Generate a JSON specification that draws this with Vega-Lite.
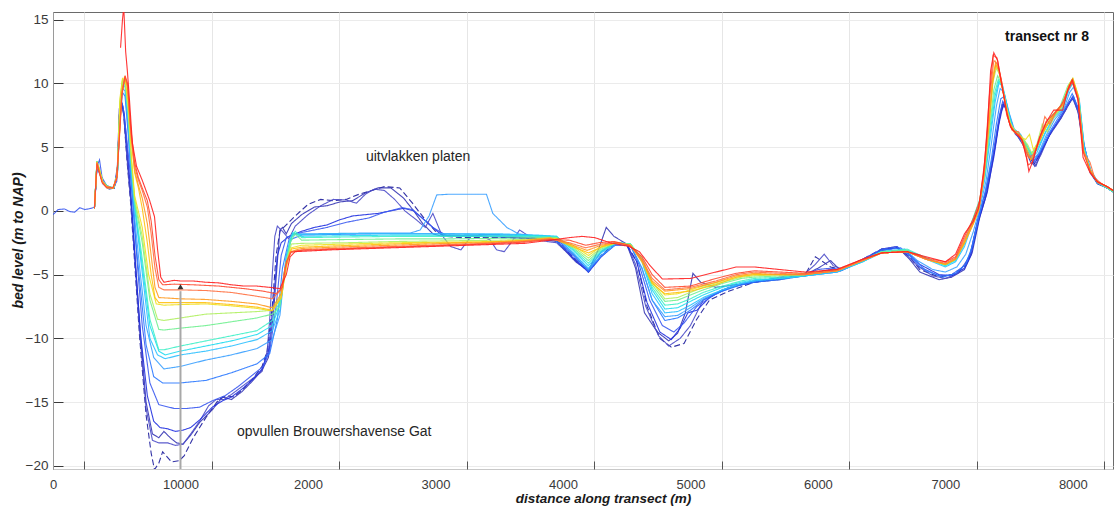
{
"$schema":"https://vega.github.io/schema/vega-lite/v6.json",
"width":1060,"height":457,
"autosize":{"type":"none"},
"padding":{"left":53,"top":12,"right":2,"bottom":38},
"config":{"view":{"stroke":"#6a6a6a"},"font":"Liberation Sans","axis":{"labelFont":"Liberation Sans","titleFont":"Liberation Sans"}},
"resolve":{"axis":{"x":"independent"}},
"layer":[
{"data":{"values":[
{"s":0,"x":325,"y":0.2},{"s":0,"x":345,"y":3.6},{"s":0,"x":370,"y":3.0},{"s":0,"x":395,"y":2.2},{"s":0,"x":440,"y":1.8},{"s":0,"x":480,"y":1.8},{"s":0,"x":505,"y":3.0},{"s":0,"x":520,"y":7.5},{"s":0,"x":535,"y":8.6},{"s":0,"x":555,"y":7.5},{"s":0,"x":580,"y":4.0},{"s":0,"x":610,"y":0.5},{"s":0,"x":640,"y":-4.0},{"s":0,"x":680,"y":-10.0},{"s":0,"x":730,"y":-16.0},{"s":0,"x":770,"y":-19.0},{"s":0,"x":796,"y":-20.3},{"s":0,"x":830,"y":-19.8},{"s":0,"x":860,"y":-18.9},{"s":0,"x":895,"y":-19.3},{"s":0,"x":930,"y":-19.7},{"s":0,"x":990,"y":-19.6},{"s":0,"x":1030,"y":-19.2},{"s":0,"x":1100,"y":-17.8},{"s":0,"x":1200,"y":-16.2},{"s":0,"x":1300,"y":-14.8},{"s":0,"x":1360,"y":-14.5},{"s":0,"x":1420,"y":-14.6},{"s":0,"x":1500,"y":-13.9},{"s":0,"x":1580,"y":-13.0},{"s":0,"x":1640,"y":-12.2},{"s":0,"x":1680,"y":-11.0},{"s":0,"x":1720,"y":-7.5},{"s":0,"x":1750,"y":-3.5},{"s":0,"x":1780,"y":-1.6},{"s":0,"x":1830,"y":-1.1},{"s":0,"x":1900,"y":-0.4},{"s":0,"x":2000,"y":0.5},{"s":0,"x":2100,"y":0.9},{"s":0,"x":2200,"y":0.8},{"s":0,"x":2300,"y":0.9},{"s":0,"x":2400,"y":1.3},{"s":0,"x":2500,"y":1.6},{"s":0,"x":2600,"y":1.9},{"s":0,"x":2720,"y":1.8},{"s":0,"x":2820,"y":0.6},{"s":0,"x":2920,"y":-0.7},{"s":0,"x":3000,"y":-1.6},{"s":0,"x":3080,"y":-2.0},{"s":0,"x":3200,"y":-2.1},{"s":0,"x":3400,"y":-2.1},{"s":0,"x":3600,"y":-2.1},{"s":0,"x":3800,"y":-2.2},{"s":0,"x":3950,"y":-2.3},{"s":0,"x":4100,"y":-3.8},{"s":0,"x":4200,"y":-4.8},{"s":0,"x":4300,"y":-3.5},{"s":0,"x":4400,"y":-2.6},{"s":0,"x":4500,"y":-2.6},{"s":0,"x":4580,"y":-4.0},{"s":0,"x":4660,"y":-7.5},{"s":0,"x":4760,"y":-10.0},{"s":0,"x":4850,"y":-10.7},{"s":0,"x":4950,"y":-10.4},{"s":0,"x":5050,"y":-8.5},{"s":0,"x":5150,"y":-7.0},{"s":0,"x":5300,"y":-6.3},{"s":0,"x":5500,"y":-5.6},{"s":0,"x":5700,"y":-5.3},{"s":0,"x":5900,"y":-5.0},{"s":0,"x":5980,"y":-3.6},{"s":0,"x":6100,"y":-4.4},{"s":0,"x":6180,"y":-4.6},{"s":0,"x":6350,"y":-3.8},{"s":0,"x":6500,"y":-3.0},{"s":0,"x":6620,"y":-2.9},{"s":0,"x":6720,"y":-3.6},{"s":0,"x":6800,"y":-4.6},{"s":0,"x":6950,"y":-5.2},{"s":0,"x":7050,"y":-5.0},{"s":0,"x":7150,"y":-4.4},{"s":0,"x":7200,"y":-3.3},{"s":0,"x":7260,"y":-0.5},{"s":0,"x":7320,"y":1.5},{"s":0,"x":7380,"y":4.5},{"s":0,"x":7420,"y":7.0},{"s":0,"x":7450,"y":8.5},{"s":0,"x":7480,"y":8.0},{"s":0,"x":7510,"y":6.7},{"s":0,"x":7560,"y":6.0},{"s":0,"x":7610,"y":5.4},{"s":0,"x":7660,"y":4.2},{"s":0,"x":7700,"y":3.7},{"s":0,"x":7750,"y":4.6},{"s":0,"x":7820,"y":6.0},{"s":0,"x":7900,"y":7.2},{"s":0,"x":7960,"y":8.2},{"s":0,"x":8000,"y":8.9},{"s":0,"x":8040,"y":8.0},{"s":0,"x":8080,"y":5.5},{"s":0,"x":8130,"y":3.2},{"s":0,"x":8190,"y":2.2},{"s":0,"x":8270,"y":1.8},{"s":0,"x":8315,"y":1.5},
{"s":1,"x":325,"y":0.2},{"s":1,"x":345,"y":3.4},{"s":1,"x":370,"y":2.9},{"s":1,"x":395,"y":2.1},{"s":1,"x":440,"y":1.8},{"s":1,"x":480,"y":1.8},{"s":1,"x":505,"y":3.5},{"s":1,"x":520,"y":8.0},{"s":1,"x":535,"y":8.7},{"s":1,"x":555,"y":7.8},{"s":1,"x":580,"y":4.5},{"s":1,"x":610,"y":1.0},{"s":1,"x":640,"y":-3.0},{"s":1,"x":680,"y":-9.0},{"s":1,"x":730,"y":-15.0},{"s":1,"x":780,"y":-17.5},{"s":1,"x":830,"y":-17.8},{"s":1,"x":870,"y":-17.3},{"s":1,"x":920,"y":-17.8},{"s":1,"x":970,"y":-18.2},{"s":1,"x":1020,"y":-18.3},{"s":1,"x":1080,"y":-17.6},{"s":1,"x":1150,"y":-16.6},{"s":1,"x":1250,"y":-15.6},{"s":1,"x":1330,"y":-14.6},{"s":1,"x":1400,"y":-14.8},{"s":1,"x":1480,"y":-14.2},{"s":1,"x":1560,"y":-13.4},{"s":1,"x":1640,"y":-12.5},{"s":1,"x":1690,"y":-11.5},{"s":1,"x":1730,"y":-8.0},{"s":1,"x":1760,"y":-4.0},{"s":1,"x":1780,"y":-1.5},{"s":1,"x":1800,"y":-1.3},{"s":1,"x":1830,"y":-1.8},{"s":1,"x":1870,"y":-1.0},{"s":1,"x":1950,"y":-0.3},{"s":1,"x":2050,"y":0.3},{"s":1,"x":2150,"y":0.4},{"s":1,"x":2250,"y":0.7},{"s":1,"x":2350,"y":0.8},{"s":1,"x":2450,"y":1.4},{"s":1,"x":2550,"y":1.8},{"s":1,"x":2650,"y":1.8},{"s":1,"x":2750,"y":1.0},{"s":1,"x":2830,"y":0.0},{"s":1,"x":2900,"y":-1.0},{"s":1,"x":2980,"y":-1.8},{"s":1,"x":3050,"y":-2.0},{"s":1,"x":3200,"y":-2.0},{"s":1,"x":3400,"y":-2.0},{"s":1,"x":3600,"y":-2.0},{"s":1,"x":3800,"y":-2.2},{"s":1,"x":3950,"y":-2.4},{"s":1,"x":4100,"y":-4.0},{"s":1,"x":4200,"y":-4.7},{"s":1,"x":4280,"y":-3.0},{"s":1,"x":4340,"y":-1.3},{"s":1,"x":4400,"y":-2.0},{"s":1,"x":4500,"y":-2.6},{"s":1,"x":4570,"y":-4.5},{"s":1,"x":4640,"y":-8.0},{"s":1,"x":4740,"y":-9.5},{"s":1,"x":4830,"y":-10.2},{"s":1,"x":4900,"y":-9.6},{"s":1,"x":4960,"y":-8.0},{"s":1,"x":5020,"y":-4.9},{"s":1,"x":5080,"y":-5.6},{"s":1,"x":5200,"y":-6.0},{"s":1,"x":5350,"y":-5.8},{"s":1,"x":5500,"y":-5.6},{"s":1,"x":5700,"y":-5.4},{"s":1,"x":5900,"y":-5.0},{"s":1,"x":6000,"y":-4.5},{"s":1,"x":6100,"y":-3.9},{"s":1,"x":6180,"y":-4.7},{"s":1,"x":6350,"y":-3.9},{"s":1,"x":6500,"y":-3.0},{"s":1,"x":6620,"y":-2.8},{"s":1,"x":6720,"y":-3.8},{"s":1,"x":6800,"y":-4.8},{"s":1,"x":6950,"y":-5.4},{"s":1,"x":7050,"y":-5.2},{"s":1,"x":7150,"y":-4.6},{"s":1,"x":7210,"y":-3.3},{"s":1,"x":7270,"y":-0.5},{"s":1,"x":7330,"y":1.5},{"s":1,"x":7390,"y":5.0},{"s":1,"x":7430,"y":7.6},{"s":1,"x":7460,"y":8.3},{"s":1,"x":7490,"y":7.6},{"s":1,"x":7520,"y":6.5},{"s":1,"x":7570,"y":5.8},{"s":1,"x":7620,"y":5.0},{"s":1,"x":7670,"y":3.8},{"s":1,"x":7710,"y":3.5},{"s":1,"x":7760,"y":4.8},{"s":1,"x":7830,"y":6.2},{"s":1,"x":7910,"y":7.3},{"s":1,"x":7970,"y":8.5},{"s":1,"x":8005,"y":8.8},{"s":1,"x":8045,"y":7.6},{"s":1,"x":8085,"y":5.0},{"s":1,"x":8135,"y":3.0},{"s":1,"x":8195,"y":2.1},{"s":1,"x":8270,"y":1.8},{"s":1,"x":8315,"y":1.5},
{"s":2,"x":325,"y":0.2},{"s":2,"x":345,"y":3.5},{"s":2,"x":370,"y":2.8},{"s":2,"x":395,"y":2.1},{"s":2,"x":440,"y":1.7},{"s":2,"x":480,"y":1.8},{"s":2,"x":505,"y":3.2},{"s":2,"x":520,"y":7.0},{"s":2,"x":535,"y":8.5},{"s":2,"x":555,"y":7.6},{"s":2,"x":580,"y":4.2},{"s":2,"x":610,"y":0.8},{"s":2,"x":640,"y":-3.5},{"s":2,"x":680,"y":-9.5},{"s":2,"x":730,"y":-15.5},{"s":2,"x":780,"y":-18.0},{"s":2,"x":830,"y":-18.2},{"s":2,"x":900,"y":-18.2},{"s":2,"x":960,"y":-18.4},{"s":2,"x":1020,"y":-18.3},{"s":2,"x":1080,"y":-17.5},{"s":2,"x":1150,"y":-16.5},{"s":2,"x":1220,"y":-15.3},{"s":2,"x":1280,"y":-14.8},{"s":2,"x":1340,"y":-14.8},{"s":2,"x":1400,"y":-14.4},{"s":2,"x":1480,"y":-13.8},{"s":2,"x":1560,"y":-13.2},{"s":2,"x":1640,"y":-12.6},{"s":2,"x":1680,"y":-11.0},{"s":2,"x":1700,"y":-8.5},{"s":2,"x":1720,"y":-5.0},{"s":2,"x":1740,"y":-2.0},{"s":2,"x":1760,"y":-1.2},{"s":2,"x":1800,"y":-1.6},{"s":2,"x":1850,"y":-2.2},{"s":2,"x":1900,"y":-1.2},{"s":2,"x":2000,"y":-0.3},{"s":2,"x":2100,"y":0.4},{"s":2,"x":2200,"y":0.9},{"s":2,"x":2300,"y":0.85},{"s":2,"x":2380,"y":0.6},{"s":2,"x":2450,"y":1.3},{"s":2,"x":2520,"y":1.7},{"s":2,"x":2600,"y":1.6},{"s":2,"x":2680,"y":0.9},{"s":2,"x":2760,"y":0.0},{"s":2,"x":2850,"y":-0.7},{"s":2,"x":2920,"y":-1.3},{"s":2,"x":2980,"y":-0.2},{"s":2,"x":3050,"y":-1.9},{"s":2,"x":3120,"y":-2.8},{"s":2,"x":3200,"y":-3.06},{"s":2,"x":3280,"y":-2.0},{"s":2,"x":3350,"y":-1.9},{"s":2,"x":3430,"y":-2.3},{"s":2,"x":3480,"y":-3.06},{"s":2,"x":3540,"y":-3.2},{"s":2,"x":3600,"y":-2.4},{"s":2,"x":3660,"y":-1.5},{"s":2,"x":3720,"y":-1.9},{"s":2,"x":3800,"y":-2.3},{"s":2,"x":3950,"y":-2.5},{"s":2,"x":4100,"y":-3.9},{"s":2,"x":4200,"y":-4.6},{"s":2,"x":4300,"y":-3.2},{"s":2,"x":4400,"y":-2.5},{"s":2,"x":4500,"y":-2.6},{"s":2,"x":4570,"y":-4.2},{"s":2,"x":4650,"y":-7.5},{"s":2,"x":4750,"y":-9.8},{"s":2,"x":4830,"y":-10.6},{"s":2,"x":4920,"y":-10.0},{"s":2,"x":5000,"y":-9.0},{"s":2,"x":5100,"y":-7.0},{"s":2,"x":5250,"y":-6.2},{"s":2,"x":5400,"y":-5.8},{"s":2,"x":5500,"y":-5.6},{"s":2,"x":5700,"y":-5.2},{"s":2,"x":5900,"y":-4.9},{"s":2,"x":5980,"y":-4.2},{"s":2,"x":6050,"y":-3.4},{"s":2,"x":6120,"y":-4.3},{"s":2,"x":6200,"y":-4.6},{"s":2,"x":6350,"y":-3.8},{"s":2,"x":6500,"y":-3.1},{"s":2,"x":6620,"y":-2.9},{"s":2,"x":6700,"y":-3.5},{"s":2,"x":6780,"y":-4.3},{"s":2,"x":6900,"y":-5.1},{"s":2,"x":7000,"y":-5.3},{"s":2,"x":7100,"y":-4.9},{"s":2,"x":7190,"y":-3.6},{"s":2,"x":7250,"y":-1.0},{"s":2,"x":7310,"y":1.0},{"s":2,"x":7370,"y":4.0},{"s":2,"x":7410,"y":6.5},{"s":2,"x":7445,"y":8.3},{"s":2,"x":7470,"y":8.4},{"s":2,"x":7500,"y":7.0},{"s":2,"x":7550,"y":6.0},{"s":2,"x":7600,"y":5.6},{"s":2,"x":7650,"y":4.5},{"s":2,"x":7700,"y":3.5},{"s":2,"x":7750,"y":4.4},{"s":2,"x":7810,"y":5.8},{"s":2,"x":7890,"y":7.0},{"s":2,"x":7950,"y":8.0},{"s":2,"x":7995,"y":8.9},{"s":2,"x":8040,"y":7.8},{"s":2,"x":8080,"y":5.2},{"s":2,"x":8130,"y":3.3},{"s":2,"x":8190,"y":2.2},{"s":2,"x":8270,"y":1.8},{"s":2,"x":8315,"y":1.5},
{"s":3,"x":325,"y":0.2},{"s":3,"x":345,"y":3.6},{"s":3,"x":370,"y":3.0},{"s":3,"x":395,"y":2.2},{"s":3,"x":440,"y":1.8},{"s":3,"x":480,"y":1.8},{"s":3,"x":505,"y":3.0},{"s":3,"x":520,"y":7.0},{"s":3,"x":535,"y":8.6},{"s":3,"x":560,"y":7.5},{"s":3,"x":585,"y":4.6},{"s":3,"x":615,"y":0.8},{"s":3,"x":645,"y":-4.0},{"s":3,"x":690,"y":-10.0},{"s":3,"x":740,"y":-14.5},{"s":3,"x":790,"y":-16.5},{"s":3,"x":840,"y":-17.0},{"s":3,"x":900,"y":-17.1},{"s":3,"x":960,"y":-17.3},{"s":3,"x":1020,"y":-17.2},{"s":3,"x":1080,"y":-17.0},{"s":3,"x":1150,"y":-16.4},{"s":3,"x":1250,"y":-15.4},{"s":3,"x":1330,"y":-14.9},{"s":3,"x":1400,"y":-14.6},{"s":3,"x":1480,"y":-14.0},{"s":3,"x":1560,"y":-13.3},{"s":3,"x":1640,"y":-12.4},{"s":3,"x":1690,"y":-11.0},{"s":3,"x":1730,"y":-7.0},{"s":3,"x":1760,"y":-3.5},{"s":3,"x":1790,"y":-2.5},{"s":3,"x":1850,"y":-2.0},{"s":3,"x":1950,"y":-1.6},{"s":3,"x":2050,"y":-1.3},{"s":3,"x":2150,"y":-1.1},{"s":3,"x":2250,"y":-0.7},{"s":3,"x":2350,"y":-0.4},{"s":3,"x":2450,"y":-0.3},{"s":3,"x":2550,"y":-0.2},{"s":3,"x":2650,"y":0.0},{"s":3,"x":2750,"y":0.2},{"s":3,"x":2830,"y":0.0},{"s":3,"x":2900,"y":-0.6},{"s":3,"x":2980,"y":-1.3},{"s":3,"x":3050,"y":-1.9},{"s":3,"x":3200,"y":-2.0},{"s":3,"x":3400,"y":-2.0},{"s":3,"x":3600,"y":-2.1},{"s":3,"x":3800,"y":-2.2},{"s":3,"x":3950,"y":-2.3},{"s":3,"x":4100,"y":-3.9},{"s":3,"x":4200,"y":-4.8},{"s":3,"x":4300,"y":-3.6},{"s":3,"x":4400,"y":-2.7},{"s":3,"x":4500,"y":-2.7},{"s":3,"x":4580,"y":-4.0},{"s":3,"x":4660,"y":-7.2},{"s":3,"x":4760,"y":-9.5},{"s":3,"x":4850,"y":-10.1},{"s":3,"x":4920,"y":-9.2},{"s":3,"x":4980,"y":-8.0},{"s":3,"x":5050,"y":-7.8},{"s":3,"x":5150,"y":-6.8},{"s":3,"x":5300,"y":-6.0},{"s":3,"x":5500,"y":-5.6},{"s":3,"x":5700,"y":-5.3},{"s":3,"x":5900,"y":-5.1},{"s":3,"x":6000,"y":-4.8},{"s":3,"x":6100,"y":-4.6},{"s":3,"x":6180,"y":-4.7},{"s":3,"x":6350,"y":-3.9},{"s":3,"x":6500,"y":-3.1},{"s":3,"x":6620,"y":-2.9},{"s":3,"x":6720,"y":-3.4},{"s":3,"x":6800,"y":-4.2},{"s":3,"x":6950,"y":-5.0},{"s":3,"x":7050,"y":-5.1},{"s":3,"x":7150,"y":-4.5},{"s":3,"x":7200,"y":-3.5},{"s":3,"x":7260,"y":-0.8},{"s":3,"x":7320,"y":1.2},{"s":3,"x":7380,"y":4.2},{"s":3,"x":7420,"y":6.8},{"s":3,"x":7455,"y":8.4},{"s":3,"x":7490,"y":7.8},{"s":3,"x":7520,"y":6.6},{"s":3,"x":7570,"y":6.0},{"s":3,"x":7620,"y":5.2},{"s":3,"x":7665,"y":4.0},{"s":3,"x":7705,"y":3.8},{"s":3,"x":7760,"y":4.8},{"s":3,"x":7830,"y":6.2},{"s":3,"x":7905,"y":7.4},{"s":3,"x":7965,"y":8.4},{"s":3,"x":8005,"y":9.0},{"s":3,"x":8045,"y":7.9},{"s":3,"x":8085,"y":5.3},{"s":3,"x":8135,"y":3.2},{"s":3,"x":8195,"y":2.2},{"s":3,"x":8270,"y":1.8},{"s":3,"x":8315,"y":1.5},
{"s":4,"x":0,"y":-0.3},{"s":4,"x":40,"y":0.1},{"s":4,"x":90,"y":0.15},{"s":4,"x":130,"y":-0.05},{"s":4,"x":170,"y":-0.1},{"s":4,"x":210,"y":0.25},{"s":4,"x":250,"y":0.1},{"s":4,"x":300,"y":0.2},{"s":4,"x":325,"y":0.3},{"s":4,"x":345,"y":3.5},{"s":4,"x":365,"y":4.0},{"s":4,"x":385,"y":2.6},{"s":4,"x":420,"y":2.0},{"s":4,"x":470,"y":1.8},{"s":4,"x":500,"y":2.3},{"s":4,"x":515,"y":5.0},{"s":4,"x":530,"y":8.7},{"s":4,"x":550,"y":8.2},{"s":4,"x":575,"y":6.0},{"s":4,"x":600,"y":3.5},{"s":4,"x":630,"y":0.5},{"s":4,"x":660,"y":-4.0},{"s":4,"x":700,"y":-9.0},{"s":4,"x":760,"y":-13.5},{"s":4,"x":830,"y":-15.2},{"s":4,"x":950,"y":-15.5},{"s":4,"x":1050,"y":-15.5},{"s":4,"x":1150,"y":-15.4},{"s":4,"x":1250,"y":-14.9},{"s":4,"x":1350,"y":-14.5},{"s":4,"x":1450,"y":-13.8},{"s":4,"x":1550,"y":-13.0},{"s":4,"x":1650,"y":-12.2},{"s":4,"x":1700,"y":-11.0},{"s":4,"x":1750,"y":-7.5},{"s":4,"x":1790,"y":-3.5},{"s":4,"x":1830,"y":-2.1},{"s":4,"x":1900,"y":-1.8},{"s":4,"x":2000,"y":-1.6},{"s":4,"x":2150,"y":-1.3},{"s":4,"x":2300,"y":-0.9},{"s":4,"x":2480,"y":-0.55},{"s":4,"x":2600,"y":-0.1},{"s":4,"x":2740,"y":0.25},{"s":4,"x":2820,"y":0.1},{"s":4,"x":2900,"y":-0.6},{"s":4,"x":2980,"y":-1.3},{"s":4,"x":3080,"y":-1.9},{"s":4,"x":3300,"y":-1.95},{"s":4,"x":3600,"y":-2.0},{"s":4,"x":3800,"y":-2.1},{"s":4,"x":3950,"y":-2.2},{"s":4,"x":4100,"y":-3.6},{"s":4,"x":4200,"y":-4.8},{"s":4,"x":4300,"y":-3.6},{"s":4,"x":4420,"y":-2.6},{"s":4,"x":4530,"y":-2.7},{"s":4,"x":4600,"y":-4.3},{"s":4,"x":4680,"y":-7.0},{"s":4,"x":4780,"y":-9.0},{"s":4,"x":4870,"y":-9.5},{"s":4,"x":4950,"y":-8.8},{"s":4,"x":5050,"y":-7.5},{"s":4,"x":5200,"y":-6.5},{"s":4,"x":5350,"y":-5.9},{"s":4,"x":5500,"y":-5.5},{"s":4,"x":5700,"y":-5.3},{"s":4,"x":5900,"y":-5.0},{"s":4,"x":6000,"y":-4.6},{"s":4,"x":6100,"y":-4.5},{"s":4,"x":6180,"y":-4.6},{"s":4,"x":6350,"y":-3.8},{"s":4,"x":6500,"y":-3.0},{"s":4,"x":6620,"y":-2.8},{"s":4,"x":6720,"y":-3.5},{"s":4,"x":6800,"y":-4.4},{"s":4,"x":6950,"y":-5.1},{"s":4,"x":7050,"y":-5.0},{"s":4,"x":7150,"y":-4.3},{"s":4,"x":7200,"y":-3.2},{"s":4,"x":7260,"y":-0.4},{"s":4,"x":7320,"y":1.7},{"s":4,"x":7380,"y":4.8},{"s":4,"x":7420,"y":7.3},{"s":4,"x":7450,"y":8.6},{"s":4,"x":7480,"y":8.1},{"s":4,"x":7510,"y":6.8},{"s":4,"x":7560,"y":6.0},{"s":4,"x":7610,"y":5.3},{"s":4,"x":7660,"y":4.3},{"s":4,"x":7700,"y":3.9},{"s":4,"x":7750,"y":4.7},{"s":4,"x":7820,"y":6.1},{"s":4,"x":7900,"y":7.3},{"s":4,"x":7960,"y":8.3},{"s":4,"x":8000,"y":8.9},{"s":4,"x":8040,"y":8.1},{"s":4,"x":8080,"y":5.6},{"s":4,"x":8130,"y":3.3},{"s":4,"x":8190,"y":2.2},{"s":4,"x":8270,"y":1.8},{"s":4,"x":8315,"y":1.5},
{"s":5,"x":325,"y":0.2},{"s":5,"x":345,"y":3.7},{"s":5,"x":365,"y":3.1},{"s":5,"x":390,"y":2.2},{"s":5,"x":430,"y":1.8},{"s":5,"x":475,"y":1.8},{"s":5,"x":505,"y":2.8},{"s":5,"x":525,"y":7.0},{"s":5,"x":545,"y":9.3},{"s":5,"x":565,"y":9.0},{"s":5,"x":590,"y":6.0},{"s":5,"x":615,"y":2.0},{"s":5,"x":640,"y":-1.5},{"s":5,"x":680,"y":-5.5},{"s":5,"x":730,"y":-10.5},{"s":5,"x":790,"y":-13.0},{"s":5,"x":860,"y":-13.5},{"s":5,"x":1000,"y":-13.5},{"s":5,"x":1200,"y":-13.3},{"s":5,"x":1400,"y":-12.7},{"s":5,"x":1600,"y":-12.0},{"s":5,"x":1700,"y":-11.2},{"s":5,"x":1760,"y":-8.5},{"s":5,"x":1800,"y":-4.5},{"s":5,"x":1850,"y":-2.3},{"s":5,"x":1950,"y":-1.9},{"s":5,"x":2200,"y":-1.85},{"s":5,"x":2500,"y":-1.8},{"s":5,"x":2800,"y":-1.8},{"s":5,"x":3100,"y":-1.8},{"s":5,"x":3400,"y":-1.85},{"s":5,"x":3700,"y":-1.9},{"s":5,"x":3900,"y":-2.0},{"s":5,"x":4050,"y":-3.2},{"s":5,"x":4200,"y":-4.7},{"s":5,"x":4300,"y":-3.5},{"s":5,"x":4420,"y":-2.6},{"s":5,"x":4530,"y":-2.7},{"s":5,"x":4620,"y":-4.5},{"s":5,"x":4700,"y":-7.0},{"s":5,"x":4800,"y":-8.6},{"s":5,"x":4900,"y":-8.4},{"s":5,"x":5000,"y":-7.8},{"s":5,"x":5100,"y":-7.0},{"s":5,"x":5250,"y":-6.3},{"s":5,"x":5400,"y":-5.8},{"s":5,"x":5500,"y":-5.6},{"s":5,"x":5700,"y":-5.4},{"s":5,"x":5900,"y":-5.1},{"s":5,"x":6150,"y":-4.8},{"s":5,"x":6350,"y":-3.9},{"s":5,"x":6500,"y":-3.1},{"s":5,"x":6650,"y":-2.9},{"s":5,"x":6750,"y":-3.8},{"s":5,"x":6850,"y":-4.7},{"s":5,"x":6980,"y":-5.2},{"s":5,"x":7080,"y":-4.9},{"s":5,"x":7160,"y":-4.2},{"s":5,"x":7210,"y":-2.8},{"s":5,"x":7260,"y":-0.6},{"s":5,"x":7310,"y":1.4},{"s":5,"x":7360,"y":4.0},{"s":5,"x":7400,"y":6.8},{"s":5,"x":7435,"y":8.8},{"s":5,"x":7465,"y":9.0},{"s":5,"x":7500,"y":7.6},{"s":5,"x":7540,"y":6.3},{"s":5,"x":7590,"y":5.8},{"s":5,"x":7640,"y":4.8},{"s":5,"x":7690,"y":3.9},{"s":5,"x":7740,"y":4.6},{"s":5,"x":7800,"y":5.9},{"s":5,"x":7880,"y":7.2},{"s":5,"x":7950,"y":8.3},{"s":5,"x":7995,"y":9.2},{"s":5,"x":8040,"y":8.1},{"s":5,"x":8080,"y":5.4},{"s":5,"x":8130,"y":3.3},{"s":5,"x":8190,"y":2.2},{"s":5,"x":8270,"y":1.8},{"s":5,"x":8315,"y":1.5},
{"s":6,"x":325,"y":0.2},{"s":6,"x":345,"y":3.8},{"s":6,"x":365,"y":3.1},{"s":6,"x":390,"y":2.2},{"s":6,"x":430,"y":1.8},{"s":6,"x":475,"y":1.8},{"s":6,"x":505,"y":2.8},{"s":6,"x":525,"y":7.5},{"s":6,"x":545,"y":9.6},{"s":6,"x":565,"y":9.4},{"s":6,"x":590,"y":6.5},{"s":6,"x":615,"y":2.5},{"s":6,"x":640,"y":-0.5},{"s":6,"x":680,"y":-4.5},{"s":6,"x":730,"y":-9.0},{"s":6,"x":790,"y":-11.5},{"s":6,"x":870,"y":-12.4},{"s":6,"x":1000,"y":-12.2},{"s":6,"x":1200,"y":-11.7},{"s":6,"x":1400,"y":-11.3},{"s":6,"x":1600,"y":-10.8},{"s":6,"x":1720,"y":-10.1},{"s":6,"x":1780,"y":-8.2},{"s":6,"x":1830,"y":-3.5},{"s":6,"x":1880,"y":-1.8},{"s":6,"x":2000,"y":-1.8},{"s":6,"x":2400,"y":-1.75},{"s":6,"x":2800,"y":-1.75},{"s":6,"x":2880,"y":-1.5},{"s":6,"x":2950,"y":-0.4},{"s":6,"x":3010,"y":1.25},{"s":6,"x":3100,"y":1.3},{"s":6,"x":3250,"y":1.3},{"s":6,"x":3400,"y":1.3},{"s":6,"x":3450,"y":-0.2},{"s":6,"x":3560,"y":-1.3},{"s":6,"x":3650,"y":-1.8},{"s":6,"x":3800,"y":-2.0},{"s":6,"x":3950,"y":-2.1},{"s":6,"x":4080,"y":-3.3},{"s":6,"x":4200,"y":-4.6},{"s":6,"x":4300,"y":-3.5},{"s":6,"x":4420,"y":-2.6},{"s":6,"x":4530,"y":-2.7},{"s":6,"x":4620,"y":-4.5},{"s":6,"x":4700,"y":-7.0},{"s":6,"x":4800,"y":-8.3},{"s":6,"x":4900,"y":-8.2},{"s":6,"x":5000,"y":-7.6},{"s":6,"x":5100,"y":-6.9},{"s":6,"x":5250,"y":-6.2},{"s":6,"x":5400,"y":-5.7},{"s":6,"x":5500,"y":-5.5},{"s":6,"x":5700,"y":-5.3},{"s":6,"x":5900,"y":-5.1},{"s":6,"x":6150,"y":-4.8},{"s":6,"x":6350,"y":-4.0},{"s":6,"x":6500,"y":-3.2},{"s":6,"x":6680,"y":-3.0},{"s":6,"x":6780,"y":-3.9},{"s":6,"x":6900,"y":-4.6},{"s":6,"x":7000,"y":-4.8},{"s":6,"x":7090,"y":-4.4},{"s":6,"x":7160,"y":-3.4},{"s":6,"x":7220,"y":-1.6},{"s":6,"x":7270,"y":0.2},{"s":6,"x":7320,"y":2.4},{"s":6,"x":7360,"y":5.2},{"s":6,"x":7400,"y":8.2},{"s":6,"x":7430,"y":9.6},{"s":6,"x":7460,"y":9.3},{"s":6,"x":7500,"y":7.7},{"s":6,"x":7540,"y":6.4},{"s":6,"x":7590,"y":6.0},{"s":6,"x":7640,"y":5.1},{"s":6,"x":7690,"y":4.1},{"s":6,"x":7730,"y":4.5},{"s":6,"x":7790,"y":5.9},{"s":6,"x":7860,"y":7.2},{"s":6,"x":7930,"y":8.0},{"s":6,"x":7975,"y":9.3},{"s":6,"x":8005,"y":9.7},{"s":6,"x":8050,"y":8.5},{"s":6,"x":8090,"y":5.0},{"s":6,"x":8140,"y":3.2},{"s":6,"x":8200,"y":2.2},{"s":6,"x":8270,"y":1.8},{"s":6,"x":8315,"y":1.5},
{"s":7,"x":325,"y":0.2},{"s":7,"x":345,"y":3.9},{"s":7,"x":365,"y":3.1},{"s":7,"x":390,"y":2.2},{"s":7,"x":430,"y":1.8},{"s":7,"x":475,"y":1.8},{"s":7,"x":505,"y":2.9},{"s":7,"x":525,"y":7.8},{"s":7,"x":545,"y":9.8},{"s":7,"x":565,"y":9.8},{"s":7,"x":590,"y":7.2},{"s":7,"x":615,"y":3.2},{"s":7,"x":640,"y":0.3},{"s":7,"x":690,"y":-4.0},{"s":7,"x":760,"y":-10.0},{"s":7,"x":820,"y":-11.3},{"s":7,"x":880,"y":-11.6},{"s":7,"x":1000,"y":-11.3},{"s":7,"x":1200,"y":-11.0},{"s":7,"x":1400,"y":-10.6},{"s":7,"x":1600,"y":-10.1},{"s":7,"x":1720,"y":-9.4},{"s":7,"x":1780,"y":-7.8},{"s":7,"x":1830,"y":-3.5},{"s":7,"x":1870,"y":-1.9},{"s":7,"x":1950,"y":-1.85},{"s":7,"x":2300,"y":-1.8},{"s":7,"x":2700,"y":-1.8},{"s":7,"x":3100,"y":-1.8},{"s":7,"x":3500,"y":-1.8},{"s":7,"x":3800,"y":-1.9},{"s":7,"x":3950,"y":-2.0},{"s":7,"x":4080,"y":-3.3},{"s":7,"x":4200,"y":-4.5},{"s":7,"x":4300,"y":-3.3},{"s":7,"x":4420,"y":-2.5},{"s":7,"x":4530,"y":-2.6},{"s":7,"x":4620,"y":-4.0},{"s":7,"x":4700,"y":-6.5},{"s":7,"x":4800,"y":-8.0},{"s":7,"x":4900,"y":-7.9},{"s":7,"x":5000,"y":-7.4},{"s":7,"x":5100,"y":-6.8},{"s":7,"x":5250,"y":-6.2},{"s":7,"x":5400,"y":-5.7},{"s":7,"x":5500,"y":-5.5},{"s":7,"x":5700,"y":-5.3},{"s":7,"x":5900,"y":-5.1},{"s":7,"x":6150,"y":-4.8},{"s":7,"x":6350,"y":-4.0},{"s":7,"x":6500,"y":-3.3},{"s":7,"x":6700,"y":-3.1},{"s":7,"x":6850,"y":-3.8},{"s":7,"x":7000,"y":-4.4},{"s":7,"x":7080,"y":-4.0},{"s":7,"x":7150,"y":-2.8},{"s":7,"x":7220,"y":-0.8},{"s":7,"x":7270,"y":0.5},{"s":7,"x":7310,"y":2.5},{"s":7,"x":7350,"y":5.5},{"s":7,"x":7390,"y":8.5},{"s":7,"x":7420,"y":10.0},{"s":7,"x":7450,"y":9.8},{"s":7,"x":7490,"y":8.0},{"s":7,"x":7530,"y":6.5},{"s":7,"x":7580,"y":6.0},{"s":7,"x":7630,"y":5.3},{"s":7,"x":7680,"y":4.2},{"s":7,"x":7720,"y":4.6},{"s":7,"x":7780,"y":6.0},{"s":7,"x":7850,"y":7.3},{"s":7,"x":7920,"y":8.0},{"s":7,"x":7970,"y":9.5},{"s":7,"x":8000,"y":10.0},{"s":7,"x":8050,"y":8.8},{"s":7,"x":8090,"y":5.0},{"s":7,"x":8140,"y":3.2},{"s":7,"x":8200,"y":2.2},{"s":7,"x":8270,"y":1.8},{"s":7,"x":8315,"y":1.5},
{"s":8,"x":325,"y":0.2},{"s":8,"x":345,"y":3.9},{"s":8,"x":365,"y":3.2},{"s":8,"x":390,"y":2.3},{"s":8,"x":430,"y":1.9},{"s":8,"x":475,"y":1.8},{"s":8,"x":505,"y":2.9},{"s":8,"x":525,"y":8.0},{"s":8,"x":545,"y":10.0},{"s":8,"x":565,"y":10.0},{"s":8,"x":590,"y":7.4},{"s":8,"x":615,"y":3.4},{"s":8,"x":640,"y":0.5},{"s":8,"x":690,"y":-3.5},{"s":8,"x":760,"y":-9.0},{"s":8,"x":830,"y":-11.0},{"s":8,"x":880,"y":-11.3},{"s":8,"x":1000,"y":-11.0},{"s":8,"x":1200,"y":-10.6},{"s":8,"x":1400,"y":-10.2},{"s":8,"x":1600,"y":-9.7},{"s":8,"x":1720,"y":-9.0},{"s":8,"x":1780,"y":-7.3},{"s":8,"x":1830,"y":-4.0},{"s":8,"x":1880,"y":-1.7},{"s":8,"x":1950,"y":-2.0},{"s":8,"x":2300,"y":-1.95},{"s":8,"x":2700,"y":-1.9},{"s":8,"x":3100,"y":-1.9},{"s":8,"x":3500,"y":-1.9},{"s":8,"x":3800,"y":-1.95},{"s":8,"x":3950,"y":-2.0},{"s":8,"x":4080,"y":-3.1},{"s":8,"x":4200,"y":-4.3},{"s":8,"x":4300,"y":-3.2},{"s":8,"x":4420,"y":-2.5},{"s":8,"x":4530,"y":-2.6},{"s":8,"x":4620,"y":-3.9},{"s":8,"x":4700,"y":-6.2},{"s":8,"x":4800,"y":-7.7},{"s":8,"x":4900,"y":-7.6},{"s":8,"x":5000,"y":-7.1},{"s":8,"x":5100,"y":-6.6},{"s":8,"x":5250,"y":-6.0},{"s":8,"x":5400,"y":-5.6},{"s":8,"x":5500,"y":-5.4},{"s":8,"x":5700,"y":-5.3},{"s":8,"x":5900,"y":-5.1},{"s":8,"x":6150,"y":-4.7},{"s":8,"x":6350,"y":-4.0},{"s":8,"x":6500,"y":-3.2},{"s":8,"x":6700,"y":-3.1},{"s":8,"x":6850,"y":-3.7},{"s":8,"x":7000,"y":-4.3},{"s":8,"x":7080,"y":-3.9},{"s":8,"x":7150,"y":-2.6},{"s":8,"x":7220,"y":-0.6},{"s":8,"x":7270,"y":0.7},{"s":8,"x":7310,"y":2.8},{"s":8,"x":7350,"y":6.0},{"s":8,"x":7390,"y":9.0},{"s":8,"x":7420,"y":10.2},{"s":8,"x":7450,"y":9.7},{"s":8,"x":7490,"y":7.8},{"s":8,"x":7530,"y":6.4},{"s":8,"x":7580,"y":6.1},{"s":8,"x":7630,"y":5.2},{"s":8,"x":7680,"y":4.4},{"s":8,"x":7720,"y":4.8},{"s":8,"x":7780,"y":6.1},{"s":8,"x":7850,"y":7.4},{"s":8,"x":7920,"y":8.1},{"s":8,"x":7970,"y":9.6},{"s":8,"x":8000,"y":10.1},{"s":8,"x":8050,"y":8.7},{"s":8,"x":8090,"y":4.8},{"s":8,"x":8140,"y":3.1},{"s":8,"x":8200,"y":2.2},{"s":8,"x":8270,"y":1.8},{"s":8,"x":8315,"y":1.5},
{"s":9,"x":325,"y":0.2},{"s":9,"x":345,"y":3.9},{"s":9,"x":365,"y":3.2},{"s":9,"x":390,"y":2.3},{"s":9,"x":430,"y":1.9},{"s":9,"x":475,"y":1.8},{"s":9,"x":505,"y":2.9},{"s":9,"x":525,"y":8.2},{"s":9,"x":545,"y":10.1},{"s":9,"x":565,"y":10.1},{"s":9,"x":590,"y":7.6},{"s":9,"x":615,"y":3.6},{"s":9,"x":640,"y":0.6},{"s":9,"x":690,"y":-3.0},{"s":9,"x":760,"y":-8.5},{"s":9,"x":830,"y":-10.9},{"s":9,"x":870,"y":-10.9},{"s":9,"x":1000,"y":-10.6},{"s":9,"x":1200,"y":-10.2},{"s":9,"x":1400,"y":-9.8},{"s":9,"x":1600,"y":-9.4},{"s":9,"x":1720,"y":-8.6},{"s":9,"x":1780,"y":-7.0},{"s":9,"x":1820,"y":-4.5},{"s":9,"x":1860,"y":-2.3},{"s":9,"x":1900,"y":-1.6},{"s":9,"x":1950,"y":-2.1},{"s":9,"x":2300,"y":-2.05},{"s":9,"x":2700,"y":-2.0},{"s":9,"x":3100,"y":-2.0},{"s":9,"x":3500,"y":-2.0},{"s":9,"x":3800,"y":-2.0},{"s":9,"x":3950,"y":-2.05},{"s":9,"x":4080,"y":-3.0},{"s":9,"x":4200,"y":-4.1},{"s":9,"x":4300,"y":-3.1},{"s":9,"x":4420,"y":-2.5},{"s":9,"x":4530,"y":-2.6},{"s":9,"x":4620,"y":-3.8},{"s":9,"x":4700,"y":-6.0},{"s":9,"x":4800,"y":-7.4},{"s":9,"x":4900,"y":-7.3},{"s":9,"x":5000,"y":-6.9},{"s":9,"x":5100,"y":-6.4},{"s":9,"x":5250,"y":-5.9},{"s":9,"x":5400,"y":-5.5},{"s":9,"x":5500,"y":-5.3},{"s":9,"x":5700,"y":-5.2},{"s":9,"x":5900,"y":-5.0},{"s":9,"x":6150,"y":-4.7},{"s":9,"x":6350,"y":-3.9},{"s":9,"x":6500,"y":-3.2},{"s":9,"x":6700,"y":-3.0},{"s":9,"x":6850,"y":-3.7},{"s":9,"x":7000,"y":-4.3},{"s":9,"x":7080,"y":-3.8},{"s":9,"x":7150,"y":-2.5},{"s":9,"x":7220,"y":-0.5},{"s":9,"x":7270,"y":0.9},{"s":9,"x":7310,"y":3.2},{"s":9,"x":7350,"y":6.5},{"s":9,"x":7385,"y":9.2},{"s":9,"x":7415,"y":10.3},{"s":9,"x":7445,"y":9.8},{"s":9,"x":7485,"y":7.8},{"s":9,"x":7525,"y":6.4},{"s":9,"x":7575,"y":6.1},{"s":9,"x":7625,"y":5.4},{"s":9,"x":7670,"y":4.5},{"s":9,"x":7710,"y":4.9},{"s":9,"x":7770,"y":6.2},{"s":9,"x":7840,"y":7.5},{"s":9,"x":7910,"y":8.2},{"s":9,"x":7965,"y":9.7},{"s":9,"x":7995,"y":10.2},{"s":9,"x":8045,"y":8.8},{"s":9,"x":8085,"y":4.9},{"s":9,"x":8135,"y":3.1},{"s":9,"x":8195,"y":2.2},{"s":9,"x":8270,"y":1.8},{"s":9,"x":8315,"y":1.5},
{"s":10,"x":325,"y":0.2},{"s":10,"x":345,"y":3.9},{"s":10,"x":365,"y":3.2},{"s":10,"x":390,"y":2.3},{"s":10,"x":430,"y":1.9},{"s":10,"x":475,"y":1.8},{"s":10,"x":505,"y":2.9},{"s":10,"x":525,"y":8.4},{"s":10,"x":545,"y":10.2},{"s":10,"x":565,"y":10.2},{"s":10,"x":590,"y":7.8},{"s":10,"x":615,"y":3.8},{"s":10,"x":640,"y":0.8},{"s":10,"x":700,"y":-2.5},{"s":10,"x":760,"y":-7.0},{"s":10,"x":830,"y":-9.3},{"s":10,"x":870,"y":-9.35},{"s":10,"x":1000,"y":-9.2},{"s":10,"x":1200,"y":-9.0},{"s":10,"x":1400,"y":-8.7},{"s":10,"x":1600,"y":-8.4},{"s":10,"x":1720,"y":-8.1},{"s":10,"x":1780,"y":-7.5},{"s":10,"x":1820,"y":-5.0},{"s":10,"x":1860,"y":-2.5},{"s":10,"x":1900,"y":-1.8},{"s":10,"x":1950,"y":-2.3},{"s":10,"x":2300,"y":-2.25},{"s":10,"x":2700,"y":-2.2},{"s":10,"x":3100,"y":-2.2},{"s":10,"x":3500,"y":-2.15},{"s":10,"x":3800,"y":-2.1},{"s":10,"x":3950,"y":-2.1},{"s":10,"x":4080,"y":-2.9},{"s":10,"x":4200,"y":-3.9},{"s":10,"x":4300,"y":-3.0},{"s":10,"x":4420,"y":-2.5},{"s":10,"x":4530,"y":-2.6},{"s":10,"x":4620,"y":-3.7},{"s":10,"x":4700,"y":-5.8},{"s":10,"x":4800,"y":-7.1},{"s":10,"x":4900,"y":-7.0},{"s":10,"x":5000,"y":-6.6},{"s":10,"x":5100,"y":-6.2},{"s":10,"x":5250,"y":-5.7},{"s":10,"x":5400,"y":-5.3},{"s":10,"x":5500,"y":-5.2},{"s":10,"x":5700,"y":-5.1},{"s":10,"x":5900,"y":-5.0},{"s":10,"x":6150,"y":-4.7},{"s":10,"x":6350,"y":-3.9},{"s":10,"x":6500,"y":-3.2},{"s":10,"x":6700,"y":-3.1},{"s":10,"x":6850,"y":-3.8},{"s":10,"x":7000,"y":-4.2},{"s":10,"x":7080,"y":-3.8},{"s":10,"x":7150,"y":-2.4},{"s":10,"x":7220,"y":-0.6},{"s":10,"x":7270,"y":0.8},{"s":10,"x":7310,"y":3.0},{"s":10,"x":7350,"y":6.8},{"s":10,"x":7380,"y":9.5},{"s":10,"x":7410,"y":10.6},{"s":10,"x":7440,"y":10.0},{"s":10,"x":7480,"y":8.0},{"s":10,"x":7520,"y":6.6},{"s":10,"x":7570,"y":6.1},{"s":10,"x":7620,"y":5.5},{"s":10,"x":7665,"y":4.4},{"s":10,"x":7700,"y":4.7},{"s":10,"x":7760,"y":6.0},{"s":10,"x":7830,"y":7.4},{"s":10,"x":7900,"y":8.2},{"s":10,"x":7960,"y":9.8},{"s":10,"x":7995,"y":10.3},{"s":10,"x":8045,"y":8.9},{"s":10,"x":8085,"y":4.8},{"s":10,"x":8135,"y":3.1},{"s":10,"x":8195,"y":2.2},{"s":10,"x":8270,"y":1.8},{"s":10,"x":8315,"y":1.5},
{"s":11,"x":325,"y":0.2},{"s":11,"x":345,"y":3.9},{"s":11,"x":365,"y":3.2},{"s":11,"x":390,"y":2.3},{"s":11,"x":430,"y":1.8},{"s":11,"x":475,"y":1.8},{"s":11,"x":505,"y":2.9},{"s":11,"x":525,"y":8.6},{"s":11,"x":545,"y":10.3},{"s":11,"x":565,"y":10.3},{"s":11,"x":590,"y":8.0},{"s":11,"x":615,"y":4.0},{"s":11,"x":640,"y":1.0},{"s":11,"x":700,"y":-2.0},{"s":11,"x":760,"y":-6.5},{"s":11,"x":820,"y":-8.5},{"s":11,"x":870,"y":-8.6},{"s":11,"x":1000,"y":-8.4},{"s":11,"x":1200,"y":-8.1},{"s":11,"x":1400,"y":-8.0},{"s":11,"x":1600,"y":-7.9},{"s":11,"x":1720,"y":-7.8},{"s":11,"x":1790,"y":-6.6},{"s":11,"x":1830,"y":-4.0},{"s":11,"x":1870,"y":-2.6},{"s":11,"x":1950,"y":-2.55},{"s":11,"x":2300,"y":-2.5},{"s":11,"x":2700,"y":-2.4},{"s":11,"x":3100,"y":-2.35},{"s":11,"x":3500,"y":-2.3},{"s":11,"x":3800,"y":-2.2},{"s":11,"x":3950,"y":-2.15},{"s":11,"x":4080,"y":-2.8},{"s":11,"x":4200,"y":-3.7},{"s":11,"x":4300,"y":-2.9},{"s":11,"x":4420,"y":-2.5},{"s":11,"x":4530,"y":-2.65},{"s":11,"x":4620,"y":-3.7},{"s":11,"x":4700,"y":-5.6},{"s":11,"x":4800,"y":-6.9},{"s":11,"x":4900,"y":-6.8},{"s":11,"x":5000,"y":-6.4},{"s":11,"x":5100,"y":-6.0},{"s":11,"x":5250,"y":-5.6},{"s":11,"x":5400,"y":-5.2},{"s":11,"x":5500,"y":-5.1},{"s":11,"x":5700,"y":-5.0},{"s":11,"x":5900,"y":-5.0},{"s":11,"x":6150,"y":-4.7},{"s":11,"x":6350,"y":-3.9},{"s":11,"x":6500,"y":-3.3},{"s":11,"x":6700,"y":-3.2},{"s":11,"x":6850,"y":-3.8},{"s":11,"x":7000,"y":-4.2},{"s":11,"x":7080,"y":-3.8},{"s":11,"x":7150,"y":-2.5},{"s":11,"x":7220,"y":-0.9},{"s":11,"x":7265,"y":0.2},{"s":11,"x":7305,"y":2.8},{"s":11,"x":7345,"y":7.0},{"s":11,"x":7375,"y":10.2},{"s":11,"x":7400,"y":11.2},{"s":11,"x":7430,"y":10.6},{"s":11,"x":7470,"y":8.6},{"s":11,"x":7510,"y":6.9},{"s":11,"x":7550,"y":6.2},{"s":11,"x":7600,"y":5.8},{"s":11,"x":7645,"y":5.2},{"s":11,"x":7680,"y":4.5},{"s":11,"x":7720,"y":5.3},{"s":11,"x":7760,"y":6.8},{"s":11,"x":7800,"y":6.2},{"s":11,"x":7850,"y":7.3},{"s":11,"x":7920,"y":8.2},{"s":11,"x":7970,"y":9.9},{"s":11,"x":8000,"y":10.4},{"s":11,"x":8045,"y":9.0},{"s":11,"x":8085,"y":4.7},{"s":11,"x":8135,"y":3.2},{"s":11,"x":8190,"y":2.3},{"s":11,"x":8270,"y":1.9},{"s":11,"x":8315,"y":1.6},
{"s":12,"x":325,"y":0.2},{"s":12,"x":345,"y":3.8},{"s":12,"x":365,"y":3.2},{"s":12,"x":390,"y":2.3},{"s":12,"x":430,"y":1.8},{"s":12,"x":475,"y":1.8},{"s":12,"x":505,"y":2.9},{"s":12,"x":525,"y":8.8},{"s":12,"x":545,"y":10.4},{"s":12,"x":565,"y":10.4},{"s":12,"x":590,"y":8.3},{"s":12,"x":615,"y":4.3},{"s":12,"x":640,"y":1.2},{"s":12,"x":700,"y":-1.3},{"s":12,"x":750,"y":-5.0},{"s":12,"x":810,"y":-7.3},{"s":12,"x":870,"y":-7.4},{"s":12,"x":1000,"y":-7.35},{"s":12,"x":1200,"y":-7.3},{"s":12,"x":1400,"y":-7.45},{"s":12,"x":1600,"y":-7.65},{"s":12,"x":1720,"y":-7.85},{"s":12,"x":1790,"y":-6.8},{"s":12,"x":1830,"y":-4.2},{"s":12,"x":1870,"y":-2.9},{"s":12,"x":1950,"y":-2.7},{"s":12,"x":2300,"y":-2.6},{"s":12,"x":2700,"y":-2.5},{"s":12,"x":3100,"y":-2.45},{"s":12,"x":3500,"y":-2.4},{"s":12,"x":3800,"y":-2.3},{"s":12,"x":3950,"y":-2.15},{"s":12,"x":4080,"y":-2.7},{"s":12,"x":4200,"y":-3.5},{"s":12,"x":4300,"y":-2.8},{"s":12,"x":4420,"y":-2.5},{"s":12,"x":4530,"y":-2.7},{"s":12,"x":4620,"y":-3.9},{"s":12,"x":4700,"y":-5.6},{"s":12,"x":4800,"y":-6.6},{"s":12,"x":4900,"y":-6.5},{"s":12,"x":5000,"y":-6.2},{"s":12,"x":5100,"y":-5.9},{"s":12,"x":5250,"y":-5.5},{"s":12,"x":5400,"y":-5.1},{"s":12,"x":5500,"y":-5.0},{"s":12,"x":5700,"y":-5.0},{"s":12,"x":5900,"y":-4.9},{"s":12,"x":6150,"y":-4.7},{"s":12,"x":6350,"y":-3.9},{"s":12,"x":6500,"y":-3.3},{"s":12,"x":6700,"y":-3.2},{"s":12,"x":6850,"y":-3.8},{"s":12,"x":7000,"y":-4.2},{"s":12,"x":7080,"y":-3.8},{"s":12,"x":7150,"y":-2.5},{"s":12,"x":7220,"y":-1.0},{"s":12,"x":7260,"y":0.0},{"s":12,"x":7300,"y":2.5},{"s":12,"x":7340,"y":6.6},{"s":12,"x":7370,"y":10.0},{"s":12,"x":7395,"y":11.4},{"s":12,"x":7420,"y":11.0},{"s":12,"x":7460,"y":9.0},{"s":12,"x":7500,"y":7.0},{"s":12,"x":7540,"y":6.2},{"s":12,"x":7590,"y":5.8},{"s":12,"x":7630,"y":5.6},{"s":12,"x":7660,"y":6.0},{"s":12,"x":7690,"y":4.8},{"s":12,"x":7740,"y":5.5},{"s":12,"x":7790,"y":6.7},{"s":12,"x":7850,"y":7.6},{"s":12,"x":7920,"y":8.4},{"s":12,"x":7970,"y":9.9},{"s":12,"x":8000,"y":10.4},{"s":12,"x":8040,"y":9.1},{"s":12,"x":8080,"y":4.9},{"s":12,"x":8135,"y":3.2},{"s":12,"x":8190,"y":2.3},{"s":12,"x":8270,"y":1.9},{"s":12,"x":8315,"y":1.6},
{"s":13,"x":325,"y":0.2},{"s":13,"x":345,"y":3.8},{"s":13,"x":360,"y":3.2},{"s":13,"x":385,"y":2.3},{"s":13,"x":420,"y":1.9},{"s":13,"x":470,"y":1.8},{"s":13,"x":500,"y":2.6},{"s":13,"x":520,"y":5.8},{"s":13,"x":540,"y":9.2},{"s":13,"x":565,"y":10.5},{"s":13,"x":585,"y":9.8},{"s":13,"x":610,"y":6.4},{"s":13,"x":640,"y":3.0},{"s":13,"x":670,"y":1.8},{"s":13,"x":700,"y":0.2},{"s":13,"x":740,"y":-2.5},{"s":13,"x":770,"y":-5.0},{"s":13,"x":800,"y":-6.8},{"s":13,"x":830,"y":-7.2},{"s":13,"x":1000,"y":-7.2},{"s":13,"x":1200,"y":-7.2},{"s":13,"x":1400,"y":-7.35},{"s":13,"x":1600,"y":-7.55},{"s":13,"x":1720,"y":-7.8},{"s":13,"x":1790,"y":-6.8},{"s":13,"x":1830,"y":-4.4},{"s":13,"x":1870,"y":-3.0},{"s":13,"x":1950,"y":-2.85},{"s":13,"x":2200,"y":-2.75},{"s":13,"x":2500,"y":-2.65},{"s":13,"x":2800,"y":-2.55},{"s":13,"x":3100,"y":-2.5},{"s":13,"x":3400,"y":-2.45},{"s":13,"x":3700,"y":-2.3},{"s":13,"x":3900,"y":-2.1},{"s":13,"x":4050,"y":-2.7},{"s":13,"x":4200,"y":-3.3},{"s":13,"x":4310,"y":-2.8},{"s":13,"x":4420,"y":-2.5},{"s":13,"x":4530,"y":-2.7},{"s":13,"x":4620,"y":-4.0},{"s":13,"x":4700,"y":-5.7},{"s":13,"x":4800,"y":-6.5},{"s":13,"x":5000,"y":-6.3},{"s":13,"x":5200,"y":-5.8},{"s":13,"x":5360,"y":-5.2},{"s":13,"x":5500,"y":-5.0},{"s":13,"x":5700,"y":-5.0},{"s":13,"x":5900,"y":-5.0},{"s":13,"x":6150,"y":-4.7},{"s":13,"x":6350,"y":-3.9},{"s":13,"x":6500,"y":-3.3},{"s":13,"x":6700,"y":-3.2},{"s":13,"x":6850,"y":-3.8},{"s":13,"x":7000,"y":-4.2},{"s":13,"x":7080,"y":-3.8},{"s":13,"x":7150,"y":-2.4},{"s":13,"x":7220,"y":-0.9},{"s":13,"x":7260,"y":0.2},{"s":13,"x":7300,"y":2.8},{"s":13,"x":7340,"y":7.0},{"s":13,"x":7370,"y":10.4},{"s":13,"x":7395,"y":11.7},{"s":13,"x":7420,"y":11.1},{"s":13,"x":7460,"y":9.0},{"s":13,"x":7500,"y":7.0},{"s":13,"x":7540,"y":6.2},{"s":13,"x":7590,"y":5.9},{"s":13,"x":7640,"y":4.8},{"s":13,"x":7670,"y":4.0},{"s":13,"x":7720,"y":5.0},{"s":13,"x":7780,"y":6.4},{"s":13,"x":7850,"y":7.5},{"s":13,"x":7920,"y":8.3},{"s":13,"x":7970,"y":9.8},{"s":13,"x":8000,"y":10.3},{"s":13,"x":8040,"y":9.0},{"s":13,"x":8080,"y":4.8},{"s":13,"x":8135,"y":3.2},{"s":13,"x":8190,"y":2.3},{"s":13,"x":8270,"y":1.9},{"s":13,"x":8315,"y":1.6},
{"s":14,"x":325,"y":0.2},{"s":14,"x":345,"y":3.8},{"s":14,"x":360,"y":3.2},{"s":14,"x":385,"y":2.3},{"s":14,"x":420,"y":1.9},{"s":14,"x":470,"y":1.8},{"s":14,"x":500,"y":2.6},{"s":14,"x":520,"y":5.8},{"s":14,"x":540,"y":9.4},{"s":14,"x":565,"y":10.6},{"s":14,"x":585,"y":9.6},{"s":14,"x":610,"y":6.0},{"s":14,"x":640,"y":3.2},{"s":14,"x":670,"y":2.0},{"s":14,"x":700,"y":1.0},{"s":14,"x":740,"y":-1.0},{"s":14,"x":770,"y":-3.5},{"s":14,"x":800,"y":-6.0},{"s":14,"x":830,"y":-6.8},{"s":14,"x":1000,"y":-6.9},{"s":14,"x":1200,"y":-6.95},{"s":14,"x":1400,"y":-7.1},{"s":14,"x":1600,"y":-7.3},{"s":14,"x":1720,"y":-7.6},{"s":14,"x":1790,"y":-6.5},{"s":14,"x":1820,"y":-4.5},{"s":14,"x":1860,"y":-3.2},{"s":14,"x":1950,"y":-2.95},{"s":14,"x":2200,"y":-2.85},{"s":14,"x":2500,"y":-2.75},{"s":14,"x":2800,"y":-2.65},{"s":14,"x":3100,"y":-2.55},{"s":14,"x":3400,"y":-2.5},{"s":14,"x":3700,"y":-2.35},{"s":14,"x":3900,"y":-2.15},{"s":14,"x":4050,"y":-2.6},{"s":14,"x":4190,"y":-3.1},{"s":14,"x":4300,"y":-2.7},{"s":14,"x":4420,"y":-2.5},{"s":14,"x":4530,"y":-2.7},{"s":14,"x":4620,"y":-3.9},{"s":14,"x":4700,"y":-5.5},{"s":14,"x":4800,"y":-6.3},{"s":14,"x":5000,"y":-6.1},{"s":14,"x":5200,"y":-5.6},{"s":14,"x":5360,"y":-5.1},{"s":14,"x":5500,"y":-4.9},{"s":14,"x":5700,"y":-5.0},{"s":14,"x":5900,"y":-5.0},{"s":14,"x":6150,"y":-4.7},{"s":14,"x":6350,"y":-3.9},{"s":14,"x":6500,"y":-3.3},{"s":14,"x":6700,"y":-3.2},{"s":14,"x":6850,"y":-3.8},{"s":14,"x":7000,"y":-4.2},{"s":14,"x":7080,"y":-3.8},{"s":14,"x":7150,"y":-2.5},{"s":14,"x":7220,"y":-1.0},{"s":14,"x":7260,"y":0.0},{"s":14,"x":7300,"y":2.5},{"s":14,"x":7340,"y":6.5},{"s":14,"x":7370,"y":10.0},{"s":14,"x":7395,"y":11.5},{"s":14,"x":7420,"y":11.0},{"s":14,"x":7460,"y":9.0},{"s":14,"x":7500,"y":7.0},{"s":14,"x":7540,"y":6.2},{"s":14,"x":7590,"y":5.8},{"s":14,"x":7640,"y":4.6},{"s":14,"x":7670,"y":4.0},{"s":14,"x":7720,"y":5.0},{"s":14,"x":7780,"y":6.5},{"s":14,"x":7850,"y":7.5},{"s":14,"x":7920,"y":8.3},{"s":14,"x":7970,"y":9.8},{"s":14,"x":8000,"y":10.3},{"s":14,"x":8040,"y":9.0},{"s":14,"x":8080,"y":4.8},{"s":14,"x":8135,"y":3.2},{"s":14,"x":8190,"y":2.3},{"s":14,"x":8270,"y":1.9},{"s":14,"x":8315,"y":1.6},
{"s":15,"x":325,"y":0.2},{"s":15,"x":345,"y":3.8},{"s":15,"x":360,"y":3.2},{"s":15,"x":385,"y":2.3},{"s":15,"x":420,"y":1.9},{"s":15,"x":470,"y":1.8},{"s":15,"x":500,"y":2.6},{"s":15,"x":520,"y":5.8},{"s":15,"x":540,"y":9.2},{"s":15,"x":565,"y":10.5},{"s":15,"x":585,"y":9.8},{"s":15,"x":610,"y":6.2},{"s":15,"x":640,"y":3.5},{"s":15,"x":670,"y":2.4},{"s":15,"x":700,"y":1.6},{"s":15,"x":740,"y":0.3},{"s":15,"x":770,"y":-1.8},{"s":15,"x":800,"y":-4.5},{"s":15,"x":830,"y":-6.0},{"s":15,"x":870,"y":-6.2},{"s":15,"x":1000,"y":-6.2},{"s":15,"x":1200,"y":-6.25},{"s":15,"x":1400,"y":-6.4},{"s":15,"x":1600,"y":-6.7},{"s":15,"x":1720,"y":-6.9},{"s":15,"x":1790,"y":-6.2},{"s":15,"x":1820,"y":-4.5},{"s":15,"x":1860,"y":-3.3},{"s":15,"x":1950,"y":-3.05},{"s":15,"x":2200,"y":-2.95},{"s":15,"x":2500,"y":-2.85},{"s":15,"x":2800,"y":-2.75},{"s":15,"x":3100,"y":-2.65},{"s":15,"x":3400,"y":-2.55},{"s":15,"x":3700,"y":-2.4},{"s":15,"x":3900,"y":-2.2},{"s":15,"x":4050,"y":-2.5},{"s":15,"x":4180,"y":-2.9},{"s":15,"x":4300,"y":-2.6},{"s":15,"x":4420,"y":-2.5},{"s":15,"x":4530,"y":-2.75},{"s":15,"x":4620,"y":-3.8},{"s":15,"x":4700,"y":-5.3},{"s":15,"x":4800,"y":-6.2},{"s":15,"x":5000,"y":-6.0},{"s":15,"x":5200,"y":-5.5},{"s":15,"x":5360,"y":-5.0},{"s":15,"x":5500,"y":-4.8},{"s":15,"x":5700,"y":-4.9},{"s":15,"x":5900,"y":-5.0},{"s":15,"x":6150,"y":-4.7},{"s":15,"x":6350,"y":-3.9},{"s":15,"x":6500,"y":-3.3},{"s":15,"x":6700,"y":-3.2},{"s":15,"x":6850,"y":-3.8},{"s":15,"x":7000,"y":-4.1},{"s":15,"x":7080,"y":-3.7},{"s":15,"x":7150,"y":-2.2},{"s":15,"x":7220,"y":-0.8},{"s":15,"x":7270,"y":0.5},{"s":15,"x":7310,"y":3.5},{"s":15,"x":7350,"y":9.0},{"s":15,"x":7380,"y":11.8},{"s":15,"x":7410,"y":11.5},{"s":15,"x":7445,"y":10.0},{"s":15,"x":7485,"y":7.4},{"s":15,"x":7525,"y":6.3},{"s":15,"x":7575,"y":6.2},{"s":15,"x":7615,"y":5.0},{"s":15,"x":7650,"y":4.2},{"s":15,"x":7690,"y":4.4},{"s":15,"x":7740,"y":5.6},{"s":15,"x":7780,"y":7.4},{"s":15,"x":7820,"y":6.8},{"s":15,"x":7870,"y":7.8},{"s":15,"x":7930,"y":8.6},{"s":15,"x":7970,"y":9.8},{"s":15,"x":8000,"y":10.2},{"s":15,"x":8045,"y":8.7},{"s":15,"x":8085,"y":4.6},{"s":15,"x":8135,"y":3.8},{"s":15,"x":8170,"y":2.6},{"s":15,"x":8230,"y":2.1},{"s":15,"x":8315,"y":1.6},
{"s":16,"x":325,"y":0.2},{"s":16,"x":345,"y":3.7},{"s":16,"x":360,"y":3.1},{"s":16,"x":385,"y":2.2},{"s":16,"x":420,"y":1.8},{"s":16,"x":470,"y":1.8},{"s":16,"x":500,"y":2.5},{"s":16,"x":520,"y":5.5},{"s":16,"x":540,"y":9.0},{"s":16,"x":565,"y":10.6},{"s":16,"x":585,"y":10.0},{"s":16,"x":610,"y":6.5},{"s":16,"x":640,"y":3.8},{"s":16,"x":670,"y":2.6},{"s":16,"x":700,"y":1.8},{"s":16,"x":740,"y":0.8},{"s":16,"x":770,"y":-0.8},{"s":16,"x":800,"y":-3.5},{"s":16,"x":830,"y":-5.4},{"s":16,"x":860,"y":-5.8},{"s":16,"x":950,"y":-5.75},{"s":16,"x":1100,"y":-5.8},{"s":16,"x":1300,"y":-5.9},{"s":16,"x":1500,"y":-6.1},{"s":16,"x":1650,"y":-6.3},{"s":16,"x":1750,"y":-6.5},{"s":16,"x":1800,"y":-6.0},{"s":16,"x":1830,"y":-4.0},{"s":16,"x":1870,"y":-3.2},{"s":16,"x":1950,"y":-3.1},{"s":16,"x":2200,"y":-3.0},{"s":16,"x":2500,"y":-2.9},{"s":16,"x":2800,"y":-2.8},{"s":16,"x":3100,"y":-2.7},{"s":16,"x":3400,"y":-2.6},{"s":16,"x":3700,"y":-2.45},{"s":16,"x":3900,"y":-2.25},{"s":16,"x":4050,"y":-2.3},{"s":16,"x":4180,"y":-2.7},{"s":16,"x":4280,"y":-2.5},{"s":16,"x":4400,"y":-2.4},{"s":16,"x":4520,"y":-2.7},{"s":16,"x":4620,"y":-3.6},{"s":16,"x":4700,"y":-5.0},{"s":16,"x":4800,"y":-6.0},{"s":16,"x":5000,"y":-5.9},{"s":16,"x":5200,"y":-5.3},{"s":16,"x":5360,"y":-4.9},{"s":16,"x":5500,"y":-4.7},{"s":16,"x":5700,"y":-4.8},{"s":16,"x":5900,"y":-4.9},{"s":16,"x":6150,"y":-4.6},{"s":16,"x":6350,"y":-3.8},{"s":16,"x":6500,"y":-3.3},{"s":16,"x":6700,"y":-3.2},{"s":16,"x":6850,"y":-3.7},{"s":16,"x":7000,"y":-4.0},{"s":16,"x":7080,"y":-3.6},{"s":16,"x":7150,"y":-2.0},{"s":16,"x":7220,"y":-0.6},{"s":16,"x":7270,"y":0.8},{"s":16,"x":7310,"y":4.0},{"s":16,"x":7345,"y":9.0},{"s":16,"x":7375,"y":12.2},{"s":16,"x":7405,"y":12.0},{"s":16,"x":7440,"y":10.2},{"s":16,"x":7480,"y":7.6},{"s":16,"x":7520,"y":6.4},{"s":16,"x":7570,"y":6.0},{"s":16,"x":7610,"y":5.4},{"s":16,"x":7650,"y":3.6},{"s":16,"x":7680,"y":3.8},{"s":16,"x":7730,"y":5.5},{"s":16,"x":7790,"y":7.0},{"s":16,"x":7850,"y":7.6},{"s":16,"x":7910,"y":8.3},{"s":16,"x":7960,"y":9.4},{"s":16,"x":7995,"y":10.1},{"s":16,"x":8040,"y":8.8},{"s":16,"x":8085,"y":4.5},{"s":16,"x":8140,"y":3.0},{"s":16,"x":8200,"y":2.2},{"s":16,"x":8270,"y":1.9},{"s":16,"x":8315,"y":1.6},
{"s":17,"x":530,"y":12.8},{"s":17,"x":545,"y":15.0},{"s":17,"x":555,"y":16.0},{"s":17,"x":570,"y":12.5},{"s":17,"x":584,"y":10.9},{"s":17,"x":600,"y":8.7},{"s":17,"x":623,"y":5.3},{"s":17,"x":655,"y":3.5},{"s":17,"x":700,"y":2.4},{"s":17,"x":757,"y":0.85},{"s":17,"x":796,"y":-0.45},{"s":17,"x":820,"y":-3.0},{"s":17,"x":845,"y":-5.2},{"s":17,"x":870,"y":-5.6},{"s":17,"x":950,"y":-5.45},{"s":17,"x":1000,"y":-5.5},{"s":17,"x":1100,"y":-5.5},{"s":17,"x":1200,"y":-5.6},{"s":17,"x":1300,"y":-5.65},{"s":17,"x":1400,"y":-5.8},{"s":17,"x":1500,"y":-5.9},{"s":17,"x":1600,"y":-5.9},{"s":17,"x":1700,"y":-6.0},{"s":17,"x":1780,"y":-6.1},{"s":17,"x":1830,"y":-5.0},{"s":17,"x":1860,"y":-3.6},{"s":17,"x":1900,"y":-3.2},{"s":17,"x":2000,"y":-3.15},{"s":17,"x":2200,"y":-3.05},{"s":17,"x":2500,"y":-2.95},{"s":17,"x":2800,"y":-2.85},{"s":17,"x":3100,"y":-2.75},{"s":17,"x":3400,"y":-2.65},{"s":17,"x":3700,"y":-2.55},{"s":17,"x":3900,"y":-2.3},{"s":17,"x":4050,"y":-2.1},{"s":17,"x":4150,"y":-2.0},{"s":17,"x":4250,"y":-2.1},{"s":17,"x":4370,"y":-2.5},{"s":17,"x":4520,"y":-2.8},{"s":17,"x":4600,"y":-3.2},{"s":17,"x":4680,"y":-4.25},{"s":17,"x":4780,"y":-5.35},{"s":17,"x":5000,"y":-5.3},{"s":17,"x":5200,"y":-4.8},{"s":17,"x":5360,"y":-4.4},{"s":17,"x":5500,"y":-4.4},{"s":17,"x":5700,"y":-4.6},{"s":17,"x":5900,"y":-4.8},{"s":17,"x":6150,"y":-4.6},{"s":17,"x":6350,"y":-3.8},{"s":17,"x":6500,"y":-3.3},{"s":17,"x":6700,"y":-3.2},{"s":17,"x":6850,"y":-3.6},{"s":17,"x":7000,"y":-4.0},{"s":17,"x":7080,"y":-3.4},{"s":17,"x":7150,"y":-1.8},{"s":17,"x":7220,"y":-0.8},{"s":17,"x":7260,"y":0.2},{"s":17,"x":7300,"y":3.0},{"s":17,"x":7330,"y":6.5},{"s":17,"x":7355,"y":11.0},{"s":17,"x":7380,"y":12.4},{"s":17,"x":7410,"y":11.8},{"s":17,"x":7440,"y":10.0},{"s":17,"x":7480,"y":7.8},{"s":17,"x":7510,"y":6.6},{"s":17,"x":7560,"y":6.0},{"s":17,"x":7600,"y":5.6},{"s":17,"x":7640,"y":4.0},{"s":17,"x":7655,"y":3.1},{"s":17,"x":7690,"y":4.0},{"s":17,"x":7740,"y":5.8},{"s":17,"x":7800,"y":7.1},{"s":17,"x":7850,"y":7.9},{"s":17,"x":7920,"y":7.9},{"s":17,"x":7960,"y":9.5},{"s":17,"x":7995,"y":10.3},{"s":17,"x":8040,"y":8.7},{"s":17,"x":8080,"y":4.2},{"s":17,"x":8135,"y":3.0},{"s":17,"x":8190,"y":2.3},{"s":17,"x":8270,"y":1.9},{"s":17,"x":8315,"y":1.6}
]},
"mark":{"type":"line","strokeWidth":1.1,"opacity":0.9,"clip":true},
"encoding":{
"x":{"field":"x","type":"quantitative","scale":{"domain":[0,8315],"nice":false,"zero":false},
"axis":{"orient":"bottom","values":[0,1000,2000,3000,4000,5000,6000,7000,8000],"format":"d","grid":false,"ticks":false,"domainColor":"#c8c8c8","labelColor":"#3a3a3a","labelFontSize":13,"labelPadding":9,"labelFlush":false,"labelOverlap":false,"labelExpr":"datum.value === 1000 ? '10000' : datum.label","title":"distance along transect (m)","titleFontSize":13.5,"titleFontWeight":"bold","titleFontStyle":"italic","titleColor":"#1a1a1a","titleX":550,"titleY":29,"titleAlign":"center","titleBaseline":"middle"}},
"y":{"field":"y","type":"quantitative","scale":{"domain":[-20.25,15.6],"nice":false,"zero":false},
"axis":{"values":[-20,-15,-10,-5,0,5,10,15],"grid":true,"gridColor":"#ebebeb","tickSize":-10,"tickColor":"#3a3a3a","domainColor":"#9a9a9a","labelColor":"#3a3a3a","labelFontSize":13.5,"labelPadding":15,"title":"bed level (m to NAP)","titleFontSize":14,"titleFontWeight":"bold","titleFontStyle":"italic","titleColor":"#1a1a1a","titleX":-35,"titleY":228,"titleAngle":-90,"titleAlign":"center","titleBaseline":"middle"}},
"color":{"field":"s","type":"ordinal","legend":null,"scale":{"range":["#1c1c9c","#3434b4","#4a4ac8","#2030e0","#3858f0","#2a78ff","#3aa0ff","#2cc0ff","#20dcf0","#40f0c8","#70f090","#b0f060","#f0e020","#ffc010","#ff9a20","#ff7040","#ff4a30","#ff2020"]}},
"strokeDash":{"condition":{"test":"datum.s === 0","value":[6,3]},"value":[1,0]}
}},
{"data":{"values":[{"x":1000,"y":-20.25,"y2":-6.3}]},
"mark":{"type":"rule","color":"#a8a8a8","strokeWidth":2},
"encoding":{
"x":{"field":"x","type":"quantitative","scale":{"domain":[0,8315],"nice":false,"zero":false},
"axis":{"orient":"bottom","values":[245,1245,2245,3245,4245,5245,6245,7245,8245],"grid":true,"gridColor":"#e6e6e6","ticks":true,"tickSize":-8,"tickColor":"#555555","labels":false,"domain":false,"title":null}},
"y":{"field":"y","type":"quantitative"},
"y2":{"field":"y2"}
}},
{"data":{"values":[{"x":1000,"y":-5.95}]},
"mark":{"type":"point","shape":"triangle-up","filled":true,"size":35,"color":"#333333","opacity":1},
"encoding":{
"x":{"field":"x","type":"quantitative","axis":null},
"y":{"field":"y","type":"quantitative"}
}},
{"data":{"values":[{"x":2455,"y":4.24,"t":"uitvlakken platen"},{"x":1443,"y":-17.38,"t":"opvullen Brouwershavense Gat"}]},
"mark":{"type":"text","align":"left","baseline":"middle","fontSize":14,"font":"Liberation Sans","color":"#262626"},
"encoding":{
"x":{"field":"x","type":"quantitative","axis":null},
"y":{"field":"y","type":"quantitative"},
"text":{"field":"t"}
}},
{"data":{"values":[{"x":7468,"y":13.64,"t":"transect nr 8"}]},
"mark":{"type":"text","align":"left","baseline":"middle","fontSize":14,"fontWeight":"bold","font":"Liberation Sans","color":"#111111"},
"encoding":{
"x":{"field":"x","type":"quantitative","axis":null},
"y":{"field":"y","type":"quantitative"},
"text":{"field":"t"}
}}
]
}
